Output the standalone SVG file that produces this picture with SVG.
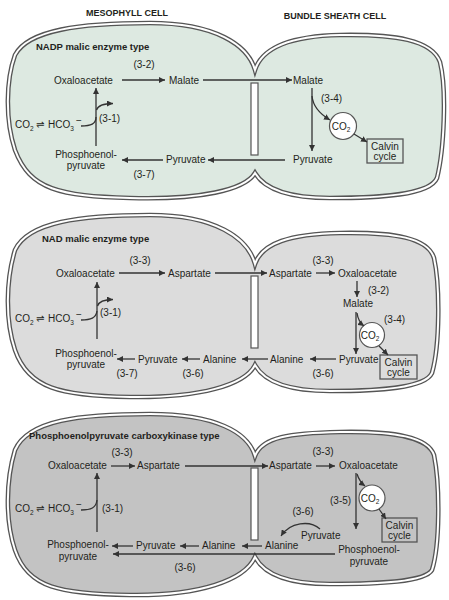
<svg xmlns="http://www.w3.org/2000/svg" xmlns:xlink="http://www.w3.org/1999/xlink" width="449" height="600" viewBox="0 0 449 600">
<defs>
<style>
.t{font-family:"Liberation Sans",Arial,"DejaVu Sans",sans-serif;font-size:10px;fill:#231f20}
.c{text-anchor:middle}
.b{font-weight:bold}
.h{font-size:9px}
.s{font-size:6.5px}
.ln{fill:none;stroke:#333;stroke-width:1.3}
.ar{fill:none;stroke:#333;stroke-width:1.3;marker-end:url(#ah)}
.sep{fill:#fff;stroke:#555;stroke-width:1.2}
.box{fill:none;stroke:#555;stroke-width:1.3}
.circ{fill:#fff;stroke:#555;stroke-width:1.2}
.o1{stroke:#555;stroke-width:4.6;fill:none;stroke-linejoin:miter}
.o2{stroke:#fff;stroke-width:2;fill:none;stroke-linejoin:miter}
</style>
<marker id="ah" markerUnits="userSpaceOnUse" markerWidth="7" markerHeight="6" refX="6" refY="3" orient="auto">
<path d="M0,0 L6,3 L0,6 Z" fill="#333"/>
</marker>
<path id="cell1" d="M255,70 C262,48 290,36 340,35 C395,34 432,40 440,62 C447,90 444,150 437,178 C430,195 380,198 330,198 C290,198 265,190 255,173 C245,190 200,200 130,198 C60,196 30,190 15,150 C5,120 6,80 15,55 C28,30 80,23 150,23 C215,23 248,45 255,70 Z"/>
<path id="cell2" d="M255,264 C262,243 290,234 340,233 C395,232 428,238 434,258 C440,285 440,345 432,373 C425,388 380,391 330,391 C290,391 265,383 255,365 C245,385 200,398 130,397 C60,396 28,388 15,350 C5,320 6,280 15,250 C28,222 80,215 150,215 C215,215 248,238 255,264 Z"/>
<path id="cell3" d="M255,456 C262,437 290,433 340,432 C395,431 428,437 434,455 C440,485 440,545 432,570 C425,582 380,584 330,584 C290,584 265,576 255,557 C245,580 200,596 130,595 C60,594 28,588 15,550 C5,520 6,480 15,450 C28,420 80,414 150,414 C215,414 248,432 255,456 Z"/>
</defs>

<g id="headers">
<text class="t b h c" x="127" y="16">MESOPHYLL CELL</text>
<text class="t b h c" x="335" y="19">BUNDLE SHEATH CELL</text>
</g>

<!-- Panel 1 -->
<g id="panel1-cells">
<use xlink:href="#cell1" fill="#dde9e1"/>
<use xlink:href="#cell1" class="o1"/>
<use xlink:href="#cell1" class="o2"/>
<rect class="sep" x="251" y="83" width="7" height="72"/>
</g>
<g id="panel1-nodes">
<text class="t b" x="36" y="50" style="font-size:9.5px">NADP malic enzyme type</text>
<g id="p1-oaa"><text class="t" x="54" y="84">Oxaloacetate</text></g>
<g id="p1-mal-m"><text class="t" x="169" y="84">Malate</text></g>
<g id="p1-mal-b"><text class="t" x="293" y="84">Malate</text></g>
<g id="p1-pyr-b"><text class="t" x="293" y="163">Pyruvate</text></g>
<g id="p1-pyr-m"><text class="t" x="166" y="163">Pyruvate</text></g>
<g id="p1-pep"><text class="t c" x="86" y="158">Phosphoenol-</text><text class="t c" x="86" y="169">pyruvate</text></g>
<g id="p1-co2hco3"><text class="t" x="15" y="128">CO<tspan class="s" dy="2.5">2</tspan><tspan dy="-2.5" x="36">⇌</tspan><tspan x="48">HCO</tspan><tspan class="s" dy="2.5">3</tspan><tspan dy="-7" x="76">−</tspan></text></g>
<g id="p1-co2"><circle class="circ" cx="343" cy="126" r="13.5"/><text class="t c" x="341" y="129.5">CO<tspan class="s" dy="2.5">2</tspan></text></g>
<g id="p1-calvin"><rect class="box" x="367" y="139" width="36" height="24"/><text class="t c" x="385" y="150">Calvin</text><text class="t c" x="385" y="160">cycle</text></g>
<text class="t c" x="144" y="68">(3-2)</text>
<text class="t" x="321" y="102">(3-4)</text>
<text class="t" x="99" y="122">(3-1)</text>
<text class="t c" x="144" y="178">(3-7)</text>
</g>
<g id="panel1-connectors">
<line class="ar" x1="122" y1="80" x2="165" y2="80"/>
<line class="ar" x1="203" y1="80" x2="292" y2="80"/>
<line class="ar" x1="312" y1="88" x2="312" y2="151"/>
<path class="ar" d="M312,96 C313,107 320,114 330,120"/>
<line class="ar" x1="354" y1="134" x2="367" y2="142"/>
<line class="ar" x1="285" y1="160" x2="208" y2="160"/>
<line class="ar" x1="163" y1="160" x2="122" y2="160"/>
<line class="ar" x1="96" y1="146" x2="96" y2="88"/>
<path class="ar" d="M96.5,110 C98,105 104,103.5 113,103.5"/>
<path class="ln" d="M81,126 C91,126 96,124 96,117"/>
</g>

<!-- Panel 2 -->
<g id="panel2-cells">
<use xlink:href="#cell2" fill="#dcdcdc"/>
<use xlink:href="#cell2" class="o1"/>
<use xlink:href="#cell2" class="o2"/>
<rect class="sep" x="251" y="276" width="7" height="72"/>
</g>
<g id="panel2-nodes">
<text class="t b" x="42" y="242" style="font-size:9.5px">NAD malic enzyme type</text>
<g id="p2-oaa-m"><text class="t" x="56" y="277">Oxaloacetate</text></g>
<g id="p2-asp-m"><text class="t" x="168" y="277">Aspartate</text></g>
<g id="p2-asp-b"><text class="t" x="269" y="277">Aspartate</text></g>
<g id="p2-oaa-b"><text class="t" x="338" y="277">Oxaloacetate</text></g>
<g id="p2-mal-b"><text class="t c" x="358" y="307">Malate</text></g>
<g id="p2-pyr-b"><text class="t" x="339" y="363">Pyruvate</text></g>
<g id="p2-ala-b"><text class="t" x="270" y="363">Alanine</text></g>
<g id="p2-ala-m"><text class="t" x="203" y="363">Alanine</text></g>
<g id="p2-pyr-m"><text class="t" x="138" y="363">Pyruvate</text></g>
<g id="p2-pep"><text class="t c" x="86" y="357">Phosphoenol-</text><text class="t c" x="86" y="368">pyruvate</text></g>
<g id="p2-co2hco3"><text class="t" x="15" y="322">CO<tspan class="s" dy="2.5">2</tspan><tspan dy="-2.5" x="36">⇌</tspan><tspan x="48">HCO</tspan><tspan class="s" dy="2.5">3</tspan><tspan dy="-7" x="76">−</tspan></text></g>
<g id="p2-co2"><circle class="circ" cx="372" cy="335" r="12.5"/><text class="t c" x="370" y="338.5">CO<tspan class="s" dy="2.5">2</tspan></text></g>
<g id="p2-calvin"><rect class="box" x="380" y="355" width="37" height="24"/><text class="t c" x="398.5" y="366">Calvin</text><text class="t c" x="398.5" y="376">cycle</text></g>
<text class="t c" x="140" y="264">(3-3)</text>
<text class="t c" x="323" y="264">(3-3)</text>
<text class="t" x="368" y="294">(3-2)</text>
<text class="t" x="384" y="323">(3-4)</text>
<text class="t" x="100" y="316">(3-1)</text>
<text class="t c" x="323" y="377">(3-6)</text>
<text class="t c" x="193" y="377">(3-6)</text>
<text class="t c" x="127" y="377">(3-7)</text>
</g>
<g id="panel2-connectors">
<line class="ar" x1="119" y1="273" x2="165" y2="273"/>
<line class="ar" x1="215" y1="273" x2="267" y2="273"/>
<line class="ar" x1="316" y1="273" x2="335" y2="273"/>
<line class="ar" x1="357" y1="281" x2="357" y2="297"/>
<line class="ar" x1="356" y1="312" x2="356" y2="354"/>
<path class="ar" d="M357,313 C358,320 360,323 364,326"/>
<line class="ar" x1="379" y1="346" x2="388" y2="355"/>
<line class="ar" x1="336" y1="359" x2="310" y2="359"/>
<line class="ar" x1="268" y1="359" x2="242" y2="359"/>
<line class="ar" x1="200" y1="359" x2="182" y2="359"/>
<line class="ar" x1="135" y1="359" x2="117" y2="359"/>
<line class="ar" x1="97" y1="339" x2="97" y2="282"/>
<path class="ar" d="M97.5,306 C99,301 105,299.5 113,299.5"/>
<path class="ln" d="M81,320 C91,320 96,318 97,311"/>
</g>

<!-- Panel 3 -->
<g id="panel3-cells">
<use xlink:href="#cell3" fill="#c3c3c3"/>
<use xlink:href="#cell3" class="o1"/>
<use xlink:href="#cell3" class="o2"/>
<rect class="sep" x="251" y="468" width="7" height="72"/>
</g>
<g id="panel3-nodes">
<text class="t b" x="29" y="439" style="font-size:9.5px">Phosphoenolpyruvate carboxykinase type</text>
<g id="p3-oaa-m"><text class="t" x="48" y="469">Oxaloacetate</text></g>
<g id="p3-asp-m"><text class="t" x="137" y="469">Aspartate</text></g>
<g id="p3-asp-b"><text class="t" x="269" y="469">Aspartate</text></g>
<g id="p3-oaa-b"><text class="t" x="339" y="469">Oxaloacetate</text></g>
<g id="p3-pyr-b"><text class="t" x="301" y="539">Pyruvate</text></g>
<g id="p3-ala-b"><text class="t" x="265" y="549">Alanine</text></g>
<g id="p3-ala-m"><text class="t" x="202" y="549">Alanine</text></g>
<g id="p3-pyr-m"><text class="t" x="136" y="549">Pyruvate</text></g>
<g id="p3-pep-m"><text class="t c" x="78" y="548">Phosphoenol-</text><text class="t c" x="78" y="560">pyruvate</text></g>
<g id="p3-pep-b"><text class="t c" x="369" y="553">Phosphoenol-</text><text class="t c" x="369" y="565">pyruvate</text></g>
<g id="p3-co2hco3"><text class="t" x="15" y="512">CO<tspan class="s" dy="2.5">2</tspan><tspan dy="-2.5" x="36">⇌</tspan><tspan x="48">HCO</tspan><tspan class="s" dy="2.5">3</tspan><tspan dy="-7" x="76">−</tspan></text></g>
<g id="p3-co2"><circle class="circ" cx="372" cy="498" r="13"/><text class="t c" x="370" y="501.5">CO<tspan class="s" dy="2.5">2</tspan></text></g>
<g id="p3-calvin"><rect class="box" x="382" y="518" width="35" height="24"/><text class="t c" x="399.5" y="529">Calvin</text><text class="t c" x="399.5" y="539">cycle</text></g>
<text class="t c" x="122" y="456">(3-3)</text>
<text class="t c" x="323" y="455">(3-3)</text>
<text class="t" x="330" y="504">(3-5)</text>
<text class="t c" x="303" y="515">(3-6)</text>
<text class="t" x="102" y="512">(3-1)</text>
<text class="t c" x="185" y="571">(3-6)</text>
</g>
<g id="panel3-connectors">
<line class="ar" x1="111" y1="466" x2="135" y2="466"/>
<line class="ar" x1="185" y1="466" x2="268" y2="466"/>
<line class="ar" x1="316" y1="466" x2="335" y2="466"/>
<line class="ar" x1="356" y1="473" x2="356" y2="529"/>
<path class="ar" d="M357,474 C359,480 361,483 365,486"/>
<line class="ar" x1="379" y1="509" x2="386" y2="519"/>
<path class="ar" d="M320,529 C310,520 290,522 281,536"/>
<line class="ar" x1="262" y1="546" x2="242" y2="546"/>
<line class="ar" x1="199" y1="546" x2="180" y2="546"/>
<line class="ar" x1="133" y1="546" x2="112" y2="546"/>
<line class="ar" x1="335" y1="554" x2="113" y2="554"/>
<line class="ar" x1="97" y1="532" x2="97" y2="473"/>
<path class="ln" d="M81,510 C91,510 96,508 97,500"/>
</g>
</svg>
